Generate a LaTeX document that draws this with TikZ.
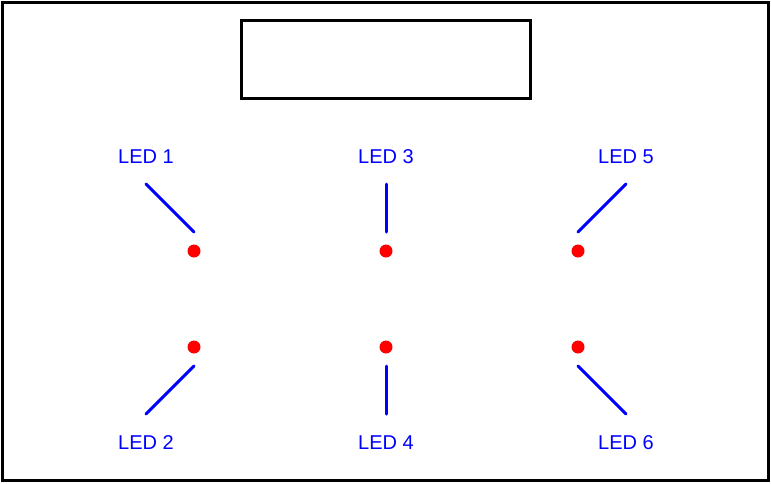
\documentclass[tikz,border=0pt]{standalone}
\usepackage{fontspec}
\setmainfont{Liberation Sans}
\definecolor{ledblue}{RGB}{0,0,255}
\definecolor{ledred}{RGB}{255,0,0}
\tikzset{
  lbl/.style={text=ledblue, font=\fontsize{20}{22}\selectfont, inner sep=0pt},
  lead/.style={draw=ledblue, line width=3pt, line cap=round},
  led/.style={circle, fill=ledred, minimum size=13pt, inner sep=0pt},
  frame/.style={draw=black, line width=3pt}
}
\begin{document}
\begin{tikzpicture}[x=1pt,y=-1pt]
\useasboundingbox (0,0) rectangle (771,483);
\draw[frame] (2.5,2.5) rectangle (768.5,480.5);
\node[frame, minimum width=289pt, minimum height=78pt, inner sep=0pt] (disp) at (385.5,59) {};
% LEDs
\node[led] (d1) at (194,251) {};
\node[led] (d3) at (386,251) {};
\node[led] (d5) at (578,251) {};
\node[led] (d2) at (194,347) {};
\node[led] (d4) at (386,347) {};
\node[led] (d6) at (578,347) {};
% labels
\node[lbl] (l1) at (146,157) {LED 1};
\node[lbl] (l3) at (386,157) {LED 3};
\node[lbl] (l5) at (626,157) {LED 5};
\node[lbl] (l2) at (146,443) {LED 2};
\node[lbl] (l4) at (386,443) {LED 4};
\node[lbl] (l6) at (626,443) {LED 6};
% lead coordinates
\coordinate (a1) at (146,184); \coordinate (b1) at (194,232);
\coordinate (a3) at (386,184); \coordinate (b3) at (386,232);
\coordinate (a5) at (626,184); \coordinate (b5) at (578,232);
\coordinate (a2) at (146,414); \coordinate (b2) at (194,366);
\coordinate (a4) at (386,414); \coordinate (b4) at (386,366);
\coordinate (a6) at (626,414); \coordinate (b6) at (578,366);
\foreach \i in {1,...,6} { \draw[lead] (a\i) -- (b\i); }
\end{tikzpicture}
\end{document}
